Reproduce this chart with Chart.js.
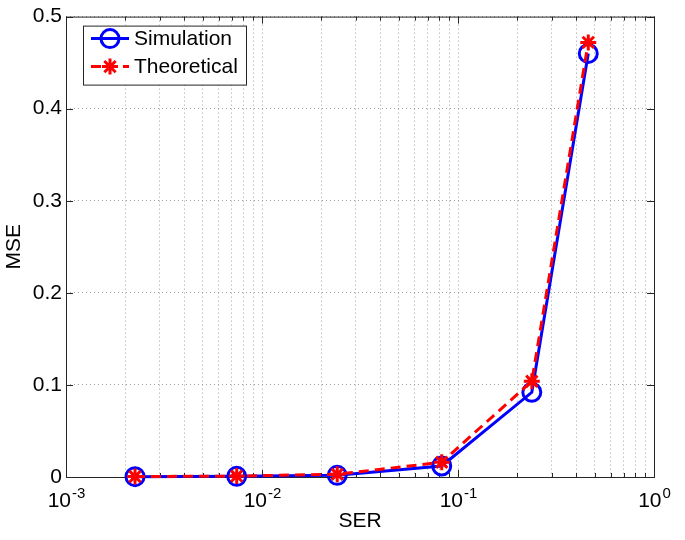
<!DOCTYPE html>
<html lang="en">
<head>
<meta charset="UTF-8">
<title>MSE vs SER</title>
<script src="https://cdn.jsdelivr.net/npm/chart.js"></script>
<style>
  html, body { margin: 0; padding: 0; background: #fff; }
</style>
</head>
<body>
<canvas id="mseChart" width="685" height="540"></canvas>
<script>
// values
const serValues = [0.00225, 0.00743, 0.0242, 0.0826, 0.238, 0.462];
const mseSimulation = [0.0004, 0.0007, 0.0018, 0.012, 0.092, 0.460];
const mseTheoretical = [0.0005, 0.0010, 0.0030, 0.016, 0.104, 0.472];

// axis ticks
const xDecades = [-3, -2, -1, 0];
const xMinorSteps = [2, 3, 4, 5, 6, 7, 8, 9];
const yTicks = [0, 0.1, 0.2, 0.3, 0.4, 0.5];

const FONT = "'Liberation Sans', Arial, Helvetica, sans-serif";
const AXIS_COLOR = '#262626';

function buildLogTicks() {
    const ticks = [];
    xDecades.forEach((e, i) => {
        ticks.push({ value: Math.pow(10, e), major: true });
        if (i < xDecades.length - 1) {
            xMinorSteps.forEach(m => ticks.push({ value: m * Math.pow(10, e), major: false }));
        }
    });
    return ticks;
}

// box, inward tick marks (matlab style)
const axesFrame = {
    id: 'axesFrame',
    beforeDatasetsDraw(chart) {
        const { ctx, chartArea: a, scales: { x, y } } = chart;
        ctx.save();
        ctx.strokeStyle = AXIS_COLOR;
        ctx.lineWidth = 1;
        ctx.beginPath();
        x.ticks.forEach(t => {
            const px = Math.round(x.getPixelForValue(t.value)) + 0.5;
            const len = t.major ? 7 : 4;
            ctx.moveTo(px, a.bottom); ctx.lineTo(px, a.bottom - len);
            ctx.moveTo(px, a.top); ctx.lineTo(px, a.top + len);
        });
        y.ticks.forEach(t => {
            const py = Math.round(y.getPixelForValue(t.value)) + 0.5;
            ctx.moveTo(a.left, py); ctx.lineTo(a.left + 7, py);
            ctx.moveTo(a.right, py); ctx.lineTo(a.right - 7, py);
        });
        ctx.stroke();
        ctx.strokeRect(a.left + 0.5, a.top + 0.5, a.right - a.left, a.bottom - a.top);
        ctx.restore();
    },
    afterDraw(chart) {
        const { ctx, chartArea: a, scales: { x } } = chart;
        ctx.save();
        ctx.fillStyle = '#000';
        ctx.textBaseline = 'alphabetic';
        ctx.textAlign = 'left';
        // 10^n labels
        xDecades.forEach(e => {
            const px = x.getPixelForValue(Math.pow(10, e));
            const sup = String(e);
            ctx.font = '21px ' + FONT;
            const w10 = ctx.measureText('10').width;
            ctx.font = '15px ' + FONT;
            const wSup = ctx.measureText(sup).width;
            const start = px - (w10 + wSup) / 2;
            ctx.font = '21px ' + FONT;
            ctx.fillText('10', start, a.bottom + 30);
            ctx.font = '15px ' + FONT;
            ctx.fillText(sup, start + w10 + 1, a.bottom + 21);
        });

        // legend box in the upper left corner
        const bx = a.left + 17, by = a.top + 9, bw = 163, bh = 59;
        ctx.fillStyle = '#fff';
        ctx.fillRect(bx, by, bw, bh);
        ctx.strokeStyle = AXIS_COLOR;
        ctx.lineWidth = 1;
        ctx.strokeRect(bx + 0.5, by + 0.5, bw, bh);
        chart.data.datasets.forEach((ds, i) => {
            const rowY = by + 13 + i * 28;
            ctx.save();
            ctx.strokeStyle = ds.borderColor;
            ctx.lineWidth = ds.borderWidth;
            ctx.setLineDash(ds.borderDash || []);
            ctx.beginPath();
            ctx.moveTo(bx + 8, rowY);
            ctx.lineTo(bx + 46, rowY);
            ctx.stroke();
            ctx.setLineDash([]);
            const mx = bx + 27;
            ctx.lineWidth = ds.pointBorderWidth;
            ctx.beginPath();
            if (ds.pointStyle === 'circle') {
                ctx.arc(mx, rowY, ds.pointRadius, 0, Math.PI * 2);
            } else {
                for (let k = 0; k < 4; k++) {
                    const ang = k * Math.PI / 4;
                    const dx = Math.cos(ang) * ds.pointRadius, dy = Math.sin(ang) * ds.pointRadius;
                    ctx.moveTo(mx - dx, rowY - dy);
                    ctx.lineTo(mx + dx, rowY + dy);
                }
            }
            ctx.stroke();
            ctx.restore();
            ctx.fillStyle = '#000';
            ctx.font = '21px ' + FONT;
            ctx.textBaseline = 'middle';
            ctx.fillText(ds.label, bx + 51, rowY + 1);
        });
        ctx.restore();
    }
};

const ctx = document.getElementById('mseChart').getContext('2d');
new Chart(ctx, {
    type: 'line',
    data: {
        datasets: [
            {
                label: 'Simulation',
                data: serValues.map((s, i) => ({ x: s, y: mseSimulation[i] })),
                borderColor: '#0000ff',
                borderWidth: 3,
                pointStyle: 'circle',
                pointRadius: 9,
                pointBorderWidth: 3,
                pointBorderColor: '#0000ff',
                pointBackgroundColor: 'rgba(0,0,0,0)',
                tension: 0,
                clip: false,
                order: 1
            },
            {
                label: 'Theoretical',
                data: serValues.map((s, i) => ({ x: s, y: mseTheoretical[i] })),
                borderColor: '#ff0000',
                borderWidth: 3,
                borderDash: [10, 6],
                pointStyle: 'star',
                pointRadius: 8,
                pointBorderWidth: 3,
                pointBorderColor: '#ff0000',
                pointBackgroundColor: '#ff0000',
                tension: 0,
                clip: false,
                order: 0
            }
        ]
    },
    options: {
        responsive: false,
        devicePixelRatio: 1,
        animation: false,
        layout: { padding: { top: 13, right: 31, left: 0, bottom: 0 } },
        plugins: {
            legend: { display: false },
            tooltip: { enabled: false }
        },
        scales: {
            x: {
                type: 'logarithmic',
                min: 0.001,
                max: 1,
                afterBuildTicks: scale => { scale.ticks = buildLogTicks(); },
                afterFit: scale => { scale.height = 63; },
                ticks: { display: false, autoSkip: false },
                grid: { color: '#a0a0a0', lineWidth: 1, drawTicks: false },
                border: { display: false, dash: [1, 3] },
                title: {
                    display: true,
                    text: 'SER',
                    color: '#000',
                    font: { family: FONT, size: 21 },
                    padding: { top: 0, bottom: 6 }
                }
            },
            y: {
                min: 0,
                max: 0.5,
                afterBuildTicks: scale => { scale.ticks = yTicks.map(v => ({ value: v })); },
                afterFit: scale => { scale.width = 66; },
                ticks: {
                    color: '#000',
                    font: { family: FONT, size: 21 },
                    padding: 4,
                    callback: v => (v === 0 ? '0' : v.toFixed(1))
                },
                grid: { color: '#a0a0a0', lineWidth: 1, drawTicks: false },
                border: { display: false, dash: [1, 3] },
                title: {
                    display: true,
                    text: 'MSE',
                    color: '#000',
                    font: { family: FONT, size: 21 },
                    padding: { top: 2, bottom: 0 }
                }
            }
        }
    },
    plugins: [axesFrame]
});
</script>
</body>
</html>
